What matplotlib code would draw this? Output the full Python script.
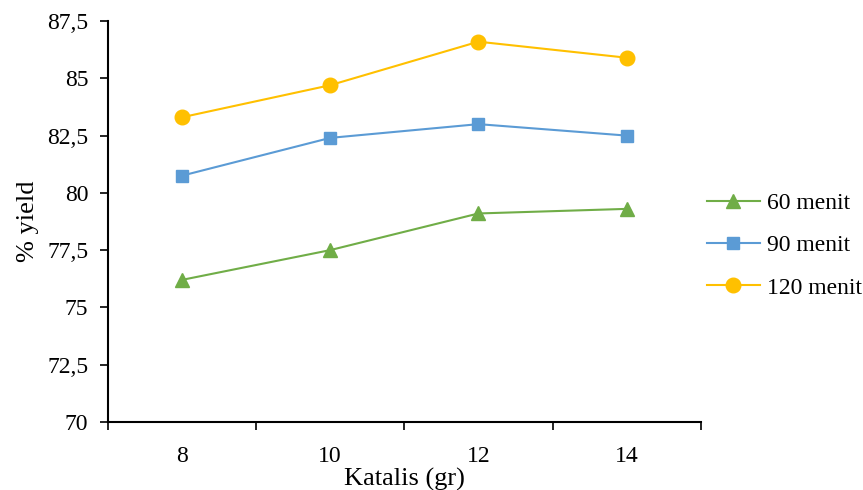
import matplotlib
matplotlib.use("Agg")
import matplotlib.pyplot as plt
from matplotlib.ticker import FuncFormatter, FixedLocator

plt.rcParams['font.family'] = ['Liberation Serif', 'DejaVu Serif']

categories = ["8", "10", "12", "14"]
menit60 = [76.2, 77.5, 79.1, 79.3]
menit90 = [80.75, 82.4, 83.0, 82.5]
menit120 = [83.3, 84.7, 86.6, 85.9]

fig = plt.figure(figsize=(8.63, 4.9), dpi=100)
ax = fig.add_axes([0.125, 0.139, 0.687, 0.818])

x = list(range(len(categories)))
ax.plot(x, menit60, color="#70AD47", marker="^", markersize=10, linewidth=1.5, label="60 menit")
ax.plot(x, menit90, color="#5B9BD5", marker="s", markersize=8.5, linewidth=1.5, label="90 menit")
ax.plot(x, menit120, color="#FFC000", marker="o", markersize=10.5, linewidth=1.5, label="120 menit")

ax.set_xlim(-0.5, len(categories) - 0.5)
ax.set_ylim(70, 87.5)
ax.set_yticks([70 + 2.5 * i for i in range(8)])
ax.yaxis.set_major_formatter(FuncFormatter(lambda v, p: (f"{v:g}").replace(".", ",")))

ax.set_xticks(x)
ax.set_xticklabels(categories)
ax.tick_params(axis="x", which="major", length=0, pad=17, labelsize=17)
ax.xaxis.set_minor_locator(FixedLocator([i - 0.5 for i in range(len(categories) + 1)]))
ax.tick_params(axis="x", which="minor", length=6, width=1.2, direction="out")
ax.tick_params(axis="y", length=6, width=1.2, direction="out", labelsize=17, pad=8)

for s in ["top", "right"]:
    ax.spines[s].set_visible(False)
for s in ["left", "bottom"]:
    ax.spines[s].set_linewidth(1.5)

ax.set_xlabel("Katalis (gr)", fontsize=19, labelpad=1)
ax.set_ylabel("% yield", fontsize=19, labelpad=6)

leg = fig.legend(loc="center left", bbox_to_anchor=(0.819, 0.499), frameon=False,
                 fontsize=17, handlelength=2.25, handletextpad=0.3, labelspacing=0.88,
                 borderpad=0, borderaxespad=0)

fig.savefig("out.png", dpi=100)
